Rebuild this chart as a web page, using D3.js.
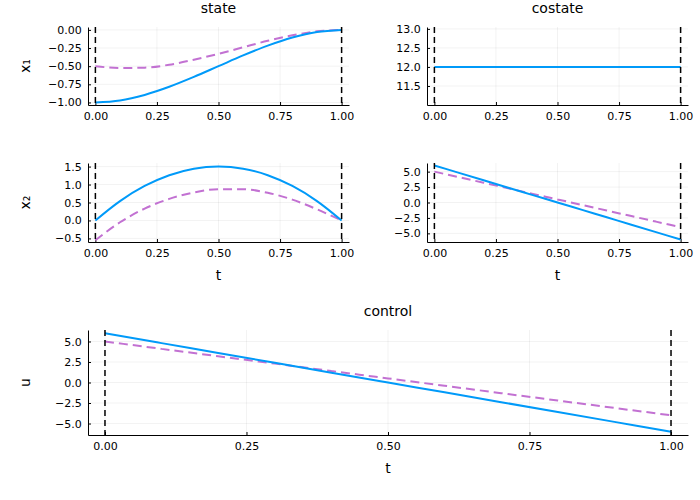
<!DOCTYPE html>
<html><head><meta charset="utf-8">
<script src="https://cdn.jsdelivr.net/npm/d3@7"></script>
<style>body{margin:0;background:#fff}text{font-family:"DejaVu Sans",sans-serif}</style>
</head><body><div id="chart"></div>
<script>
// sampled time grid
var t = [0, 0.1, 0.2, 0.3, 0.4, 0.5, 0.6, 0.7, 0.8, 0.9, 1.0];
// solid (exact) and dashed (approx) series
var x1Solid = [-1, -0.972, -0.896, -0.784, -0.648, -0.5, -0.352, -0.216, -0.104, -0.028, 0];
var x1Dash = [-0.5, -0.525, -0.52, -0.48, -0.41, -0.33, -0.24, -0.15, -0.075, -0.02, 0];
var x2Solid = [0, 0.54, 0.96, 1.26, 1.44, 1.5, 1.44, 1.26, 0.96, 0.54, 0];
var x2Dash = [-0.55, -0.05, 0.33, 0.6, 0.78, 0.87, 0.87, 0.77, 0.58, 0.31, 0];
var p1Solid = [12, 12, 12, 12, 12, 12, 12, 12, 12, 12, 12];
var p2Solid = [6, 4.8, 3.6, 2.4, 1.2, 0, -1.2, -2.4, -3.6, -4.8, -6];
var p2Dash = [5, 4.1, 3.2, 2.3, 1.4, 0.5, -0.4, -1.3, -2.2, -3.1, -4];
var uSolid = [6, 4.8, 3.6, 2.4, 1.2, 0, -1.2, -2.4, -3.6, -4.8, -6];
var uDash = [5, 4.1, 3.2, 2.3, 1.4, 0.5, -0.4, -1.3, -2.2, -3.1, -4];

var xTicksSmall = [0, 0.25, 0.5, 0.75, 1];

var svg = d3.select("#chart").append("svg").attr("width", 700).attr("height", 500);

function panel(p) {
    var x = d3.scaleLinear().domain([-0.03, 1.03]).range([p.x0, p.x1]);
    var y = d3.scaleLinear().domain(p.yd).range([p.y1, p.y0]);
    var g = svg.append("g");
    // grid
    g.selectAll(".gx").data(xTicksSmall).enter().append("line")
        .attr("x1", d => x(d)).attr("x2", d => x(d)).attr("y1", p.y0).attr("y2", p.y1)
        .attr("stroke", "#000").attr("stroke-opacity", 0.1).attr("stroke-width", 0.5);
    g.selectAll(".gy").data(p.yt).enter().append("line")
        .attr("y1", d => y(d)).attr("y2", d => y(d)).attr("x1", p.x0).attr("x2", p.x1)
        .attr("stroke", "#000").attr("stroke-opacity", 0.1).attr("stroke-width", 0.5);
    // axes
    g.append("g").attr("transform", "translate(0," + p.y1 + ")")
        .call(d3.axisBottom(x).tickValues(xTicksSmall).tickFormat(d3.format(".2f")).tickSize(-3).tickSizeOuter(0))
        .call(a => a.selectAll("text").attr("dy", "1.1em").style("font-size", "11px"));
    g.append("g").attr("transform", "translate(" + p.x0 + ",0)")
        .call(d3.axisLeft(y).tickValues(p.yt).tickFormat(d3.format(p.fmt)).tickSize(-3).tickSizeOuter(0))
        .call(a => a.selectAll("text").attr("dx", "-0.3em").style("font-size", "11px"));
    var line = d3.line().x((d, i) => x(t[i])).y(d => y(d)).curve(d3.curveMonotoneX);
    if (p.dash) g.append("path").datum(p.dash).attr("d", line).attr("fill", "none")
        .attr("stroke", "#c271d2").attr("stroke-width", 2).attr("stroke-dasharray", "9,5");
    g.append("path").datum(p.solid).attr("d", line).attr("fill", "none")
        .attr("stroke", "#009af9").attr("stroke-width", 2);
    [0, 1].forEach(v => g.append("line").attr("x1", x(v)).attr("x2", x(v))
        .attr("y1", p.y0).attr("y2", p.y1).attr("stroke", "#000").attr("stroke-width", 1.5)
        .attr("stroke-dasharray", "6,4"));
    if (p.title) g.append("text").attr("x", (p.x0 + p.x1) / 2).attr("y", p.y0 - 14)
        .attr("text-anchor", "middle").style("font-size", "14px").text(p.title);
    if (p.ylab) g.append("text").attr("transform", "translate(" + (p.x0 - 58) + "," + ((p.y0 + p.y1) / 2) + ")rotate(-90)")
        .attr("text-anchor", "middle").style("font-size", "14px").text(p.ylab);
    if (p.xlab) g.append("text").attr("x", (p.x0 + p.x1) / 2).attr("y", p.y1 + 38)
        .attr("text-anchor", "middle").style("font-size", "14px").text("t");
}

panel({x0: 88, x1: 349, y0: 27, y1: 105, yd: [-1.035, 0.04], yt: [-1, -0.75, -0.5, -0.25, 0], fmt: ".2f",
    solid: x1Solid, dash: x1Dash, title: "state", ylab: "x₁"});
panel({x0: 427, x1: 688, y0: 27, y1: 105, yd: [11, 13.05], yt: [11.5, 12, 12.5, 13], fmt: ".1f",
    solid: p1Solid, title: "costate"});
panel({x0: 88, x1: 349, y0: 163, y1: 242, yd: [-0.6, 1.6], yt: [-0.5, 0, 0.5, 1, 1.5], fmt: ".1f",
    solid: x2Solid, dash: x2Dash, ylab: "x₂", xlab: true});
panel({x0: 427, x1: 688, y0: 163, y1: 242, yd: [-6.4, 6.4], yt: [-5, -2.5, 0, 2.5, 5], fmt: ".1f",
    solid: p2Solid, dash: p2Dash, xlab: true});
panel({x0: 88, x1: 688, y0: 330, y1: 435, yd: [-6.4, 6.4], yt: [-5, -2.5, 0, 2.5, 5], fmt: ".1f",
    solid: uSolid, dash: uDash, title: "control", ylab: "u", xlab: true});
</script></body></html>
